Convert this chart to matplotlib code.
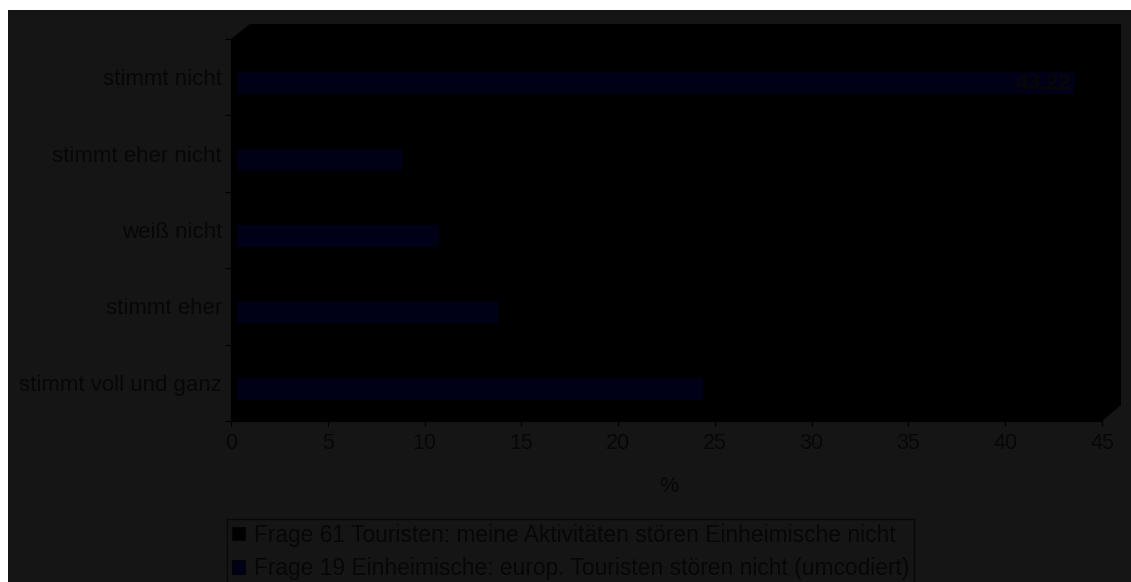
import matplotlib
matplotlib.use("Agg")
import matplotlib.pyplot as plt
from matplotlib.patches import Polygon, Rectangle, Patch
from matplotlib import transforms as mtransforms

# ---- data -------------------------------------------------------------
categories = ["stimmt voll und ganz", "stimmt eher", "weiß nicht",
              "stimmt eher nicht", "stimmt nicht"]
frage19_values = [24.05, 13.5, 10.45, 8.55, 43.22]
labelled_category = "stimmt nicht"
x_ticks = [0, 5, 10, 15, 20, 25, 30, 35, 40, 45]
series_names = ["Frage 61 Touristen: meine Aktivitäten stören Einheimische nicht",
                "Frage 19 Einheimische: europ. Touristen stören nicht (umcodiert)"]
x_label = "%"

# ---- styling ----------------------------------------------------------
W, H = 1131, 582
DPI = 100
CHART_BG = "#151515"
PLOT_BG = "#000000"
TEXT = "#070707"
NAVY = "#000016"
FONT = "Liberation Sans"

plt.rcParams["font.family"] = [FONT, "DejaVu Sans"]

fig = plt.figure(figsize=(W / DPI, H / DPI), dpi=DPI, facecolor="white")


def px(x, y):
    """pixel position (origin top-left) -> figure fraction"""
    return (x / W, 1 - y / H)


# chart area
x0, y0 = px(8, 10)
fig.patches.append(Rectangle((x0, 0), 1 - x0, y0, transform=fig.transFigure,
                             facecolor=CHART_BG, edgecolor="none", zorder=-3))

# 3-D plot box (floor + back wall seen from the front)
box = [px(231, 39), px(250, 24), px(1121, 24), px(1121, 405),
       px(1102, 421), px(231, 421)]
fig.patches.append(Polygon(box, closed=True, transform=fig.transFigure,
                           facecolor=PLOT_BG, edgecolor="none", zorder=-2))

# axes = front face of the plot box
left, top = px(231, 39)
right, bottom = px(1102, 421)
ax = fig.add_axes([left, bottom, right - left, top - bottom])
ax.set_facecolor("none")

n = len(categories)
ypos = list(range(n))
band_frac = 1 / 3.5  # two series per category, gap width 150 %

# bars sit half-way into the depth of the box
depth = mtransforms.offset_copy(ax.transData, fig=fig, x=6, y=5, units="dots")

bars = ax.barh([p - band_frac / 2 for p in ypos], frage19_values,
               height=band_frac, color=NAVY, edgecolor="none",
               transform=depth, zorder=2)

# value label
i = categories.index(labelled_category)
ax.text(frage19_values[i], ypos[i] - band_frac / 2, f"{frage19_values[i]:.2f}",
        transform=mtransforms.offset_copy(ax.transData, fig=fig, x=4, y=5, units="dots"),
        ha="right", va="center", fontsize=16, fontweight="bold",
        color=TEXT, zorder=3)

ax.set_xlim(0, 45)
ax.set_ylim(-0.5, n - 0.5)
ax.set_xticks(x_ticks)
ax.set_xticklabels([str(t) for t in x_ticks])
ax.set_yticks([p - 0.5 for p in range(n + 1)], minor=False)
ax.set_yticklabels([""] * (n + 1))
ax.set_yticks(ypos, minor=True)
ax.set_yticklabels(categories, minor=True)

ax.tick_params(axis="x", which="major", direction="out", length=3.6, width=0.8,
               color="black", labelsize=15.5, labelcolor=TEXT, pad=5)
ax.tick_params(axis="y", which="major", direction="out", length=4.3, width=0.8,
               color="black")
ax.tick_params(axis="y", which="minor", length=0, labelsize=16,
               labelcolor=TEXT, pad=6.5)

for s in ["top", "right"]:
    ax.spines[s].set_visible(False)
for s in ["left", "bottom"]:
    ax.spines[s].set_color("black")
    ax.spines[s].set_linewidth(0.8)

ax.set_xlabel(x_label, fontsize=15.5, color=TEXT)
ax.xaxis.label.set_va("center")
ax.xaxis.set_label_coords(0.503, -(487 - 421) / (421 - 39))

# legend
handles = [Patch(facecolor="#000000", edgecolor="#050505", linewidth=0.8),
           Patch(facecolor=NAVY, edgecolor="#050505", linewidth=0.8)]
lx, ly = px(227, 519)
leg = fig.legend(handles, series_names, loc="upper left",
                 bbox_to_anchor=(lx, ly), bbox_transform=fig.transFigure,
                 fontsize=16.4, frameon=True, fancybox=False, shadow=False,
                 borderpad=0.2, labelspacing=0.45, handlelength=0.6,
                 handleheight=0.55, handletextpad=0.4, borderaxespad=0)
leg.get_frame().set_facecolor("none")
leg.get_frame().set_edgecolor("#050505")
leg.get_frame().set_linewidth(1.0)
for t in leg.get_texts():
    t.set_color(TEXT)

fig.savefig("out.png", dpi=DPI, facecolor=fig.get_facecolor())
